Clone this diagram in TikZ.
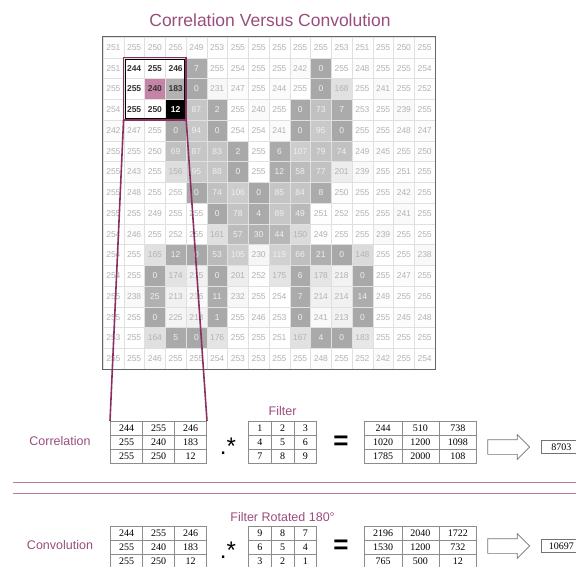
\documentclass[tikz,border=0pt]{standalone}
\usepackage{fontspec}
\setmainfont{Liberation Sans}
\newfontfamily\numfont{Liberation Serif}
\usetikzlibrary{matrix, positioning, shapes.arrows}
\definecolor{mauve}{HTML}{9A4D7C}
\definecolor{winframe}{HTML}{8B2F62}
\definecolor{sepcol}{HTML}{B47C9A}
\definecolor{hotcell}{HTML}{C583A6}

\begin{document}
\begin{tikzpicture}[x=1pt, y=-1pt,
      cell/.style={draw=black!12, line width=0.4pt, minimum size=20.75pt, inner sep=0pt, font=\fontsize{8.5}{9}\selectfont},
      wincell/.style={cell, font=\fontsize{8.5}{9}\selectfont\bfseries},
      rowlabel/.style={text=mauve, font=\fontsize{12.5}{14}\selectfont, inner sep=1pt},
      title/.style={text=mauve, font=\fontsize{17.5}{20}\selectfont},
      mat/.style={matrix of nodes, inner sep=0pt, column sep=-0.6pt, row sep=-0.6pt,
        nodes={draw=black!45, line width=0.6pt, minimum width=#1, minimum height=13.9pt, inner sep=0pt, font=\numfont\fontsize{10}{11}\selectfont}},
      opsign/.style={font=\fontsize{24}{26}\selectfont, inner sep=0pt},
      eqsign/.style={font=\fontsize{26}{28}\selectfont\bfseries, inner sep=0pt},
      hollowarrow/.style={single arrow, draw=black!55, fill=white, line width=0.7pt, inner xsep=0pt, inner ysep=7pt,
        text height=0pt, text depth=0pt, minimum height=42pt, single arrow head extend=5pt},
      sumbox/.style={draw=black!55, line width=0.7pt, minimum width=46pt, minimum height=13pt, inner sep=0pt, text depth=0pt,
        font=\numfont\fontsize{10}{11}\selectfont},
      frameline/.style={winframe, line width=1.6pt},
      sepline/.style={sepcol, line width=0.7pt}]
  \useasboundingbox (0,0) rectangle (576,567);

  \node[title] (ttl) at (270,20) {Correlation Versus Convolution};

  % image grid, 16 x 16 grey levels
  \foreach \vals [count=\r from 0] in {
      {251,255,250,255,249,253,255,255,255,255,255,253,251,255,250,255},
      {251,244,255,246,7,255,254,255,255,242,0,255,248,255,255,254},
      {255,255,240,183,0,231,247,255,244,255,0,168,255,241,255,252},
      {254,255,250,12,87,2,255,240,255,0,73,7,253,255,239,255},
      {242,247,255,0,94,0,254,254,241,0,95,0,255,255,248,247},
      {255,255,250,69,87,83,2,255,6,107,79,74,249,245,255,250},
      {255,243,255,156,95,88,0,255,12,58,77,201,239,255,251,255},
      {255,248,255,255,0,74,106,0,85,84,8,250,255,255,242,255},
      {255,255,249,255,255,0,78,4,89,49,251,252,255,255,241,255},
      {254,246,255,252,255,161,57,30,44,150,249,255,255,239,255,255},
      {254,255,165,12,0,53,105,230,119,66,21,0,148,255,255,238},
      {254,255,0,174,215,0,201,252,175,6,178,218,0,255,247,255},
      {255,238,25,213,236,11,232,255,254,7,214,214,14,249,255,255},
      {255,255,0,225,218,1,255,246,253,0,241,213,0,255,245,248},
      {253,255,164,5,0,176,255,255,251,167,4,0,183,255,255,255},
      {255,255,246,255,255,254,253,253,255,255,248,255,252,242,255,254}} {
    \foreach \v [count=\c from 0] in \vals {
      \pgfmathsetmacro\shd{(255-\v)/255*34}
      \pgfmathsetmacro\txt{\v<125 ? 6 : 30}
      \node[cell, fill=black!\shd, text=black!\txt] (g-\r-\c)
        at ({103+20.75*(\c+0.5)}, {37+20.75*(\r+0.5)}) {\v};
    }
  }
  \draw[black!60, line width=1.2pt] (g-0-0.north west) rectangle (g-15-15.south east);

  % 3 x 3 window
  \foreach \r/\c/\v/\bg/\fg in {1/1/244/white/black!80, 1/2/255/white/black!80, 1/3/246/white/black!80,
      2/1/255/white/black!80, 2/2/240/hotcell/black!80, 2/3/183/black!30/black!80,
      3/1/255/white/black!80, 3/2/250/white/black!80, 3/3/12/black/white}
    \node[wincell, fill=\bg, text=\fg] (w-\r-\c) at (g-\r-\c) {\v};
  \draw[black, line width=0.7pt] ([shift={(1.5,1.5)}]g-1-1.north west) rectangle ([shift={(-1.5,-1.5)}]g-3-3.south east);

  % correlation row
  \matrix[mat=32pt, anchor=north west] (corrIn) at (110,421) {
    244 & 255 & 246 \\ 255 & 240 & 183 \\ 255 & 250 & 12 \\};
  \matrix[mat=22.7pt, anchor=north west] (corrFilt) at (248,421) {
    1 & 2 & 3 \\ 4 & 5 & 6 \\ 7 & 8 & 9 \\};
  \matrix[mat=37.3pt, anchor=north west] (corrRes) at (364,421) {
    244 & 510 & 738 \\ 1020 & 1200 & 1098 \\ 1785 & 2000 & 108 \\};
  \node[rowlabel] (corrLbl) at (60,441) {Correlation};
  \node[rowlabel, above=4pt of corrFilt] (filtLbl) {Filter};
  \node[opsign] (corrMul) at (228,446) {.*};
  \node[eqsign] (corrEq) at (341,443) {=};
  \node[hollowarrow] (corrArr) at (505,447) {};
  \node[sumbox, anchor=west] (corrSum) at (541,447) {\hspace*{-6pt}8703};

  \draw[frameline] (g-1-1.north west) rectangle (g-3-3.south east);
  \draw[frameline] (g-3-1.south west) -- (corrIn.north west);
  \draw[frameline] (g-3-3.south east) -- (corrIn.north east);

  % separator
  \draw[sepline] (13,482) -- (576,482);
  \draw[sepline] (13,493) -- (576,493);

  % convolution row
  \matrix[mat=32pt, anchor=north west] (convIn) at (110,526) {
    244 & 255 & 246 \\ 255 & 240 & 183 \\ 255 & 250 & 12 \\};
  \matrix[mat=22.7pt, anchor=north west] (convFilt) at (248,526) {
    9 & 8 & 7 \\ 6 & 5 & 4 \\ 3 & 2 & 1 \\};
  \matrix[mat=37.3pt, anchor=north west] (convRes) at (364,526) {
    2196 & 2040 & 1722 \\ 1530 & 1200 & 732 \\ 765 & 500 & 12 \\};
  \node[rowlabel] (convLbl) at (60,545) {Convolution};
  \node[rowlabel, above=3pt of convFilt] (rotLbl) {Filter Rotated 180°};
  \node[opsign] (convMul) at (228,550) {.*};
  \node[eqsign] (convEq) at (341,547) {=};
  \node[hollowarrow] (convArr) at (505,546) {};
  \node[sumbox, anchor=west] (convSum) at (541,546) {\hspace*{-6pt}10697};
\end{tikzpicture}
\end{document}
